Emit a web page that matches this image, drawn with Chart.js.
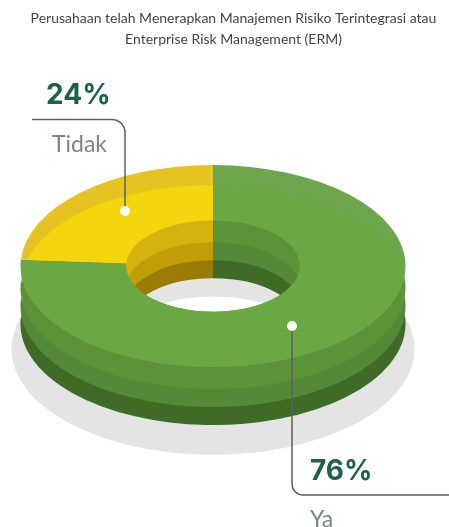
<!DOCTYPE html>
<html>
<head>
<meta charset="utf-8">
<title>Enterprise Risk Management</title>
<style>
  html, body { margin: 0; padding: 0; background: #fff; overflow: hidden; }
  canvas { display: block; }
</style>
<script src="https://cdn.jsdelivr.net/npm/chart.js@4"></script>
</head>
<body>
<canvas id="myChart" width="449" height="527"></canvas>
<script>
'use strict';

//--------------------DATA
let categories = ['Ya', 'Tidak'];
let shareValues = [76, 24];
let titleLines = [
  'Perusahaan telah Menerapkan Manajemen Risiko Terintegrasi atau',
  'Enterprise Risk Management (ERM)',
];

//--------------------COLORS (one entry per category)
let surfaceColors = ['#69a843', '#f4d60e'];
let rimColors = ['#6ea64d', '#e5c422'];
// side bands of the ring, lowest band first
let sideColors = [
  ['#3f6b27', '#9a7b06'],
  ['#548a37', '#c09e07'],
  ['#5c9339', '#d4b30f'],
];
let shadowColor = '#e4e4e4';

//--------------------RING GEOMETRY
let ringX = 213;
let ringY = 266;
let ringRadius = 192.5;
let squash = 0.525;
let sideOffsets = [58, 40, 22];
let rimOffset = 20;
let shadowOffset = 83;
let shadowScale = 1.044;
let shadowCutout = 0.5;

//--------------------HELPERS
function moveToRing(ctx, arc, offsetY, scale) {
  ctx.translate(ringX, ringY + offsetY);
  ctx.scale(scale, scale * squash);
  ctx.translate(-arc.x, -arc.y);
}

// draws a copy of a library arc with other colors, so the stored element stays as it is
function drawArcCopy(ctx, arc, color, offsetY, scale, innerRadius) {
  let copy = Object.create(arc);
  copy.options = Object.assign({}, arc.options, { backgroundColor: color, borderColor: color, borderWidth: 0 });
  if (innerRadius !== undefined) {
    copy.innerRadius = innerRadius;
    copy.options.borderWidth = 1;
  }
  ctx.save();
  moveToRing(ctx, arc, offsetY, scale);
  copy.draw(ctx);
  ctx.restore();
}

function drawSurface(ctx, arc, index) {
  drawArcCopy(ctx, arc, rimColors[index], 0, 1);

  // the flat part of the top face, same ellipse moved down and kept inside the slice
  ctx.save();
  moveToRing(ctx, arc, 0, 1);
  ctx.beginPath();
  ctx.arc(arc.x, arc.y, arc.outerRadius, arc.startAngle, arc.endAngle);
  ctx.arc(arc.x, arc.y, arc.innerRadius, arc.endAngle, arc.startAngle, true);
  ctx.closePath();
  ctx.clip();
  ctx.beginPath();
  ctx.arc(arc.x, arc.y + rimOffset / squash, arc.outerRadius, 0, Math.PI * 2);
  ctx.fillStyle = surfaceColors[index];
  ctx.fill();
  ctx.restore();
}

function drawLeader(ctx, points, radius) {
  ctx.save();
  ctx.strokeStyle = '#5c5f5c';
  ctx.lineWidth = 1.5;
  ctx.beginPath();
  ctx.moveTo(points[0][0], points[0][1]);
  ctx.arcTo(points[1][0], points[1][1], points[2][0], points[2][1], radius);
  ctx.lineTo(points[2][0], points[2][1]);
  ctx.stroke();
  ctx.restore();
}

function drawDot(ctx, x, y) {
  ctx.beginPath();
  ctx.arc(x, y, 5, 0, Math.PI * 2);
  ctx.fillStyle = '#fff';
  ctx.fill();
}

function drawCallout(ctx, index, valueX, valueY, nameX, nameY) {
  ctx.textAlign = 'left';
  ctx.textBaseline = 'alphabetic';
  ctx.fillStyle = '#1d6148';
  ctx.font = 'bold 28px Inter';
  ctx.fillText(`${shareValues[index]}%`, valueX, valueY);
  ctx.fillStyle = '#76897f';
  ctx.font = '23px Lato';
  ctx.fillText(categories[index], nameX, nameY);
}

//--------------------PLUGINS
let stackedRing = {
  id: 'stackedRing',
  beforeDatasetsDraw(chart) {
    let ctx = chart.ctx;
    let arcs = chart.getDatasetMeta(0).data;

    arcs.forEach((arc) => {
      drawArcCopy(ctx, arc, shadowColor, shadowOffset, shadowScale, arc.outerRadius * shadowCutout);
    });
    sideOffsets.forEach((offset, band) => {
      arcs.forEach((arc, i) => drawArcCopy(ctx, arc, sideColors[band][i], offset, 1));
    });
    arcs.forEach((arc, i) => drawSurface(ctx, arc, i));
    return false;
  },
};

let callouts = {
  id: 'callouts',
  afterDraw(chart) {
    let ctx = chart.ctx;
    ctx.save();
    drawLeader(ctx, [[32, 119.5], [125, 119.5], [125, 211]], 13);
    drawLeader(ctx, [[292, 326], [292, 495], [449, 495]], 11);
    drawDot(ctx, 125, 211);
    drawDot(ctx, 292, 326);
    drawCallout(ctx, 1, 46, 104, 52, 152);
    drawCallout(ctx, 0, 310, 480, 310, 527);
    ctx.restore();
  },
};

//--------------------CHART
let canvasElem = document.getElementById('myChart');

new Chart(canvasElem, {
  type: 'doughnut',
  data: {
    labels: categories,
    datasets: [
      {
        data: shareValues,
        backgroundColor: surfaceColors,
        borderWidth: 0,
      },
    ],
  },
  options: {
    responsive: false,
    animation: false,
    radius: ringRadius,
    cutout: '45.2%',
    // left and right differ so the title centers on its own axis, the ring is moved by the plugin
    layout: { padding: { left: 30, right: 12 } },
    plugins: {
      legend: { display: false },
      tooltip: { enabled: false },
      title: {
        display: true,
        text: titleLines,
        color: '#444444',
        font: { family: 'Lato', size: 14, weight: 'normal', lineHeight: 1.5 },
        padding: { top: 8, bottom: 0 },
      },
    },
  },
  plugins: [stackedRing, callouts],
});
</script>
</body>
</html>
